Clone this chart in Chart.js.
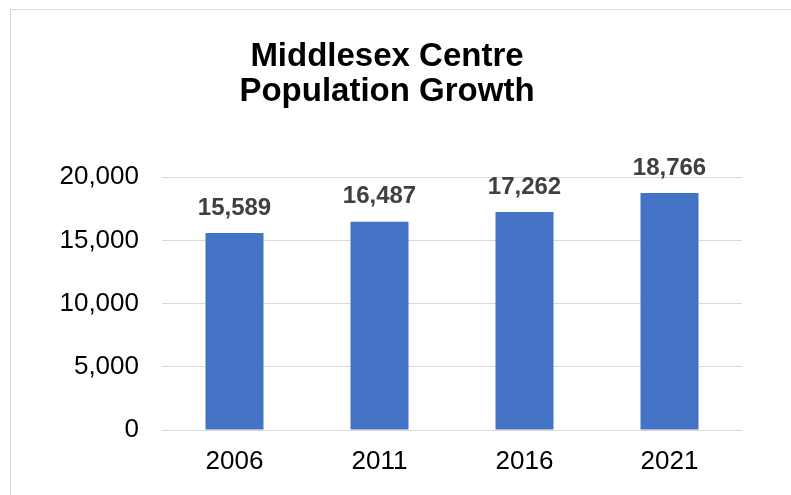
<!DOCTYPE html>
<html>
<head>
<meta charset="utf-8">
<script src="https://cdn.jsdelivr.net/npm/chart.js@4"></script>
<style>
  html, body { margin: 0; padding: 0; background: #fff; }
  #wrap { position: relative; width: 791px; height: 495px; overflow: hidden; }
  #frame { position: absolute; left: 10px; top: 9px; width: 900px; height: 600px;
           border-left: 1px solid #d9d9d9; border-top: 1px solid #d9d9d9; }
  canvas { position: absolute; left: 0; top: 0; }
</style>
</head>
<body>
<div id="wrap">
  <div id="frame"></div>
  <canvas id="chart" width="791" height="495"></canvas>
</div>
<script>
const years = ['2006', '2011', '2016', '2021'];
const population = [15589, 16487, 17262, 18766];
const yMin = 0;
const yMax = 20000;
const yStep = 5000;

const fmt = (v) => Number(v).toLocaleString('en-US');

// value labels above each bar
const barLabels = {
  id: 'barLabels',
  afterDatasetsDraw(chart) {
    const ctx = chart.ctx;
    const meta = chart.getDatasetMeta(0);
    ctx.save();
    ctx.font = 'bold 24px "Liberation Sans", Arial, sans-serif';
    ctx.fillStyle = '#404040';
    ctx.textAlign = 'center';
    ctx.textBaseline = 'middle';
    meta.data.forEach((bar, i) => {
      ctx.fillText(fmt(population[i]), bar.x, bar.y - 25);
    });
    ctx.restore();
  }
};

new Chart(document.getElementById('chart'), {
  type: 'bar',
  data: {
    labels: years,
    datasets: [{
      data: population,
      backgroundColor: '#4472c4',
      categoryPercentage: 1,
      barPercentage: 0.4,
    }],
  },
  options: {
    responsive: false,
    animation: false,
    layout: { padding: { top: 40, left: 32, right: 49, bottom: 10 } },
    plugins: {
      legend: { display: false },
      tooltip: { enabled: false },
      title: {
        display: true,
        text: ['Middlesex Centre', 'Population Growth'],
        color: '#000',
        font: { family: '"Liberation Sans", Arial, sans-serif', size: 33, weight: 'bold', lineHeight: 1.05 },
        padding: { top: 0, bottom: 68 },
      },
    },
    scales: {
      x: {
        grid: { display: false, drawTicks: false },
        border: { display: false },
        ticks: {
          color: '#000',
          padding: 16,
          font: { family: '"Liberation Sans", Arial, sans-serif', size: 26 },
        },
        afterFit(axis) { axis.height = 55; },
      },
      y: {
        min: yMin,
        max: yMax,
        grid: { color: '#d9d9d9', lineWidth: 1, drawTicks: false },
        border: { display: false },
        ticks: {
          stepSize: yStep,
          color: '#000',
          padding: 23,
          font: { family: '"Liberation Sans", Arial, sans-serif', size: 26 },
          callback: (v) => fmt(v),
        },
        afterFit(axis) { axis.width = 130; },
      },
    },
  },
  plugins: [barLabels],
});
</script>
</body>
</html>
